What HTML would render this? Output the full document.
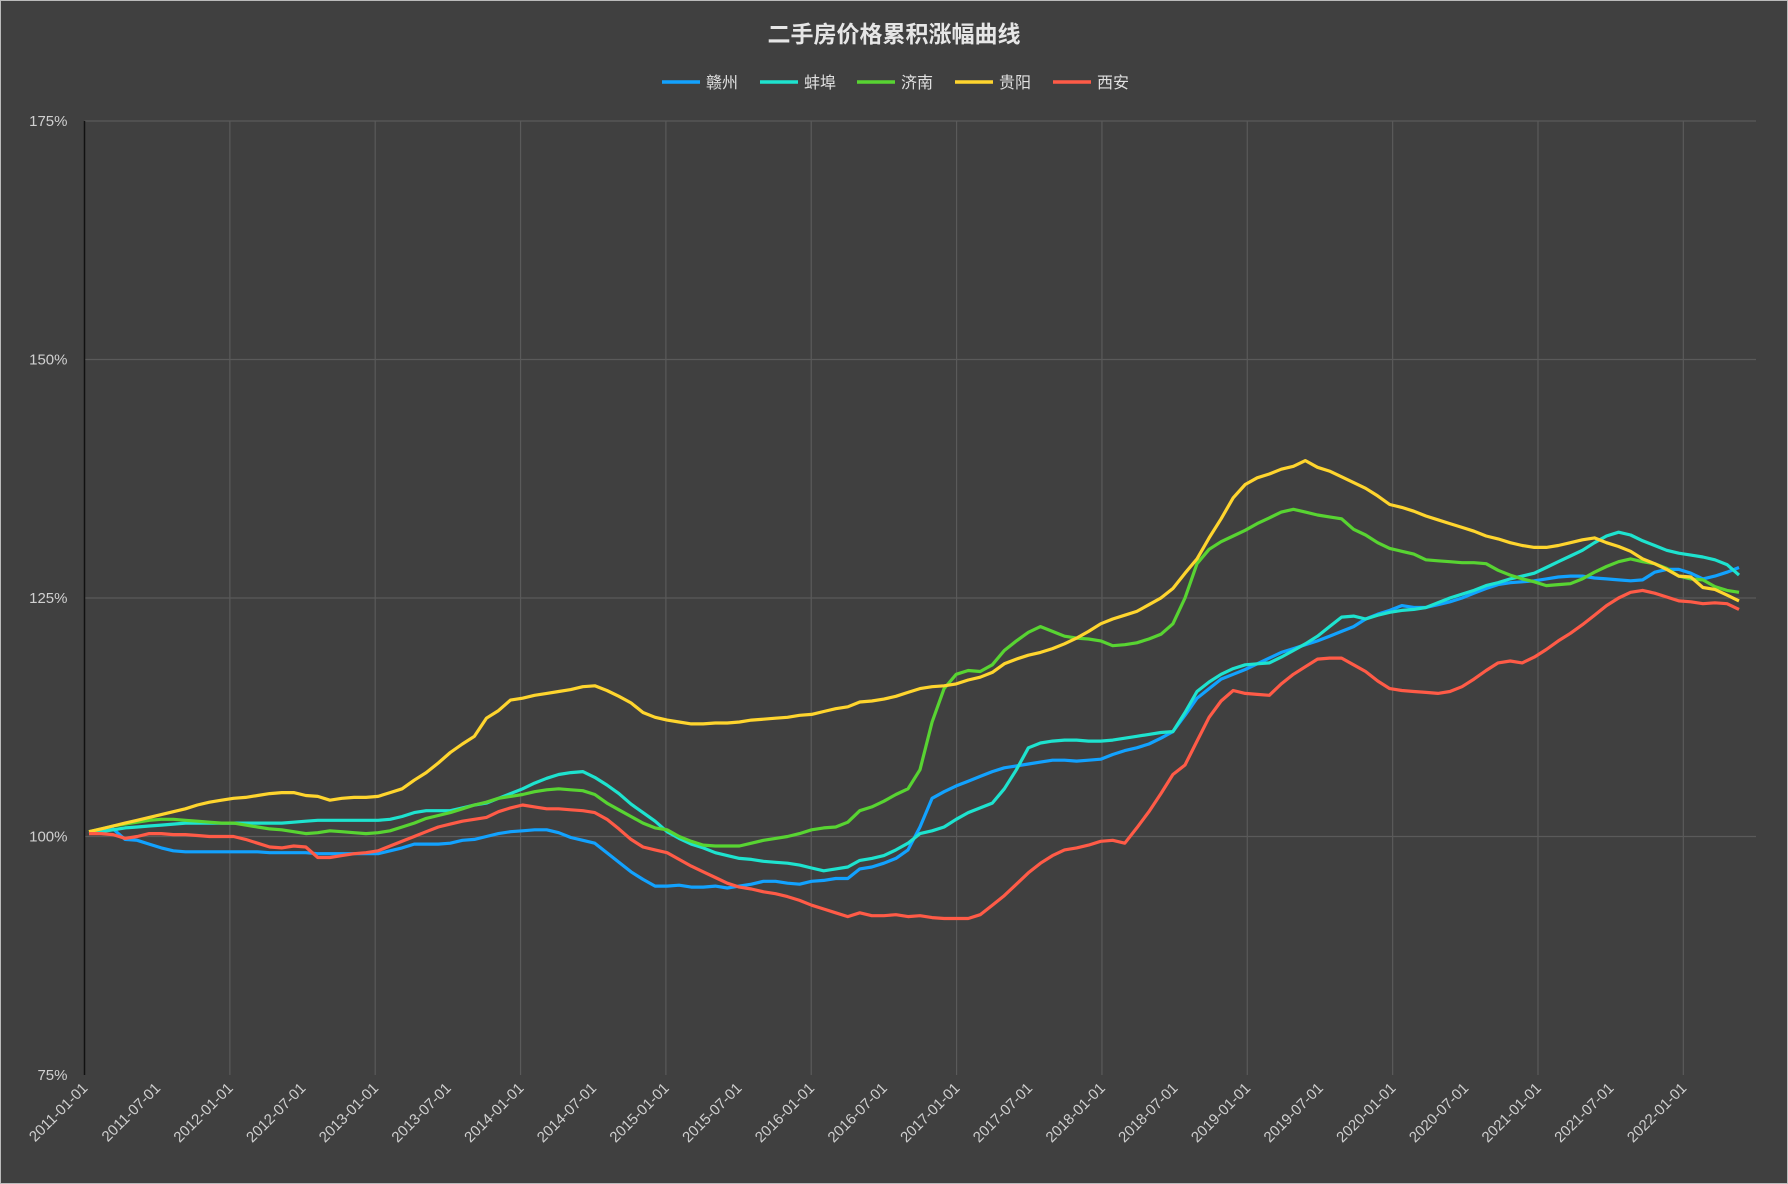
<!DOCTYPE html>
<html><head><meta charset="utf-8"><style>
html,body{margin:0;padding:0;background:#404040;}
svg{display:block;font-family:"Liberation Sans","Noto Sans CJK SC",sans-serif;}
</style></head><body>
<svg id="chart" width="1788" height="1184" viewBox="0 0 1788 1184" xmlns="http://www.w3.org/2000/svg">
<rect x="0.5" y="0.5" width="1787" height="1183" fill="#404040" stroke="#bbb" stroke-width="1"/>
<text x="894" y="42" text-anchor="middle" fill="#e6e6e6" font-size="23" font-weight="bold">二手房价格累积涨幅曲线</text>
<g id="legend"></g>
<g id="grid"></g>
<g id="series"></g>
<g id="axes"></g>
</svg>
<script>
const seriesNames = ["赣州","蚌埠","济南","贵阳","西安"];
const seriesColors = ["#12a2ff","#1ee3cf","#58d432","#ffd52e","#ff5b47"];
const yTicks = [75,100,125,150,175];
const startYear = 2011;
const monthCount = 138;
const ganzhou = [100.5,100.6,100.8,99.7,99.6,99.2,98.8,98.5,98.4,98.4,98.4,98.4,
98.4,98.4,98.4,98.3,98.3,98.3,98.3,98.2,98.2,98.2,98.2,98.2,
98.2,98.5,98.8,99.2,99.2,99.2,99.3,99.6,99.7,100.0,100.3,100.5,
100.6,100.7,100.7,100.4,99.9,99.6,99.3,98.3,97.3,96.3,95.5,94.8,
94.8,94.9,94.7,94.7,94.8,94.6,94.8,95.0,95.3,95.3,95.1,95.0,
95.3,95.4,95.6,95.6,96.6,96.8,97.2,97.7,98.6,101.0,104.0,104.7,
105.3,105.8,106.3,106.8,107.2,107.4,107.6,107.8,108.0,108.0,107.9,108.0,
108.1,108.6,109.0,109.3,109.7,110.3,111.0,112.7,114.5,115.5,116.5,117.0,
117.5,118.1,118.7,119.3,119.7,120.1,120.5,121.0,121.5,122.0,122.8,123.3,
123.7,124.2,124.0,124.0,124.3,124.6,125.0,125.5,126.0,126.4,126.6,126.7,
126.8,127.0,127.2,127.3,127.3,127.1,127.0,126.9,126.8,126.9,127.7,128.0,
128.0,127.6,127.0,127.3,127.7,128.2];
const bengbu = [100.3,100.5,100.7,100.9,101.0,101.1,101.2,101.3,101.4,101.4,101.4,101.4,
101.4,101.4,101.4,101.4,101.4,101.5,101.6,101.7,101.7,101.7,101.7,101.7,
101.7,101.8,102.1,102.5,102.7,102.7,102.7,103.0,103.3,103.5,104.0,104.5,
105.0,105.6,106.1,106.5,106.7,106.8,106.2,105.4,104.5,103.4,102.5,101.6,
100.5,99.8,99.2,98.8,98.3,98.0,97.7,97.6,97.4,97.3,97.2,97.0,
96.7,96.4,96.6,96.8,97.5,97.7,98.0,98.6,99.3,100.3,100.6,101.0,
101.8,102.5,103.0,103.5,105.0,107.0,109.3,109.8,110.0,110.1,110.1,110.0,
110.0,110.1,110.3,110.5,110.7,110.9,111.0,113.0,115.2,116.2,117.0,117.6,
118.0,118.1,118.2,118.8,119.5,120.2,121.0,122.0,123.0,123.1,122.8,123.2,
123.5,123.7,123.8,124.0,124.5,125.0,125.4,125.8,126.3,126.6,127.0,127.3,
127.6,128.2,128.8,129.4,130.0,130.8,131.5,131.9,131.6,131.0,130.5,130.0,
129.7,129.5,129.3,129.0,128.5,127.4];
const jinan = [100.5,100.8,101.1,101.3,101.5,101.7,101.8,101.8,101.7,101.6,101.5,101.4,
101.4,101.2,101.0,100.8,100.7,100.5,100.3,100.4,100.6,100.5,100.4,100.3,
100.4,100.6,101.0,101.4,101.9,102.2,102.5,102.9,103.3,103.6,104.0,104.2,
104.4,104.7,104.9,105.0,104.9,104.8,104.4,103.5,102.8,102.1,101.4,100.9,
100.7,100.0,99.5,99.1,99.0,99.0,99.0,99.3,99.6,99.8,100.0,100.3,
100.7,100.9,101.0,101.5,102.7,103.1,103.7,104.4,105.0,107.0,112.0,115.5,
117.0,117.4,117.3,118.0,119.5,120.5,121.4,122.0,121.5,121.0,120.8,120.7,
120.5,120.0,120.1,120.3,120.7,121.2,122.3,125.0,128.6,130.1,130.9,131.5,
132.1,132.8,133.4,134.0,134.3,134.0,133.7,133.5,133.3,132.2,131.6,130.8,
130.2,129.9,129.6,129.0,128.9,128.8,128.7,128.7,128.6,127.9,127.4,127.0,
126.7,126.3,126.4,126.5,127.0,127.7,128.3,128.8,129.1,128.8,128.6,128.1,
127.3,127.0,126.9,126.2,125.8,125.6];
const guiyang = [100.5,100.8,101.1,101.4,101.7,102.0,102.3,102.6,102.9,103.3,103.6,103.8,
104.0,104.1,104.3,104.5,104.6,104.6,104.3,104.2,103.8,104.0,104.1,104.1,
104.2,104.6,105.0,105.9,106.7,107.7,108.8,109.7,110.5,112.4,113.2,114.3,
114.5,114.8,115.0,115.2,115.4,115.7,115.8,115.3,114.7,114.0,113.0,112.5,
112.2,112.0,111.8,111.8,111.9,111.9,112.0,112.2,112.3,112.4,112.5,112.7,
112.8,113.1,113.4,113.6,114.1,114.2,114.4,114.7,115.1,115.5,115.7,115.8,
116.0,116.4,116.7,117.2,118.1,118.6,119.0,119.3,119.7,120.2,120.8,121.5,
122.3,122.8,123.2,123.6,124.3,125.0,126.0,127.6,129.1,131.3,133.3,135.5,
136.9,137.6,138.0,138.5,138.8,139.4,138.7,138.3,137.7,137.1,136.5,135.7,
134.8,134.5,134.1,133.6,133.2,132.8,132.4,132.0,131.5,131.2,130.8,130.5,
130.3,130.3,130.5,130.8,131.1,131.3,130.8,130.4,129.9,129.1,128.6,128.0,
127.3,127.2,126.1,125.9,125.3,124.7];
const xian = [100.3,100.3,100.2,99.8,100.0,100.3,100.3,100.2,100.2,100.1,100.0,100.0,
100.0,99.7,99.3,98.9,98.8,99.0,98.9,97.8,97.8,98.0,98.2,98.3,
98.5,99.0,99.5,100.0,100.5,101.0,101.3,101.6,101.8,102.0,102.6,103.0,
103.3,103.1,102.9,102.9,102.8,102.7,102.5,101.8,100.8,99.7,98.9,98.6,
98.3,97.6,96.9,96.3,95.7,95.1,94.7,94.5,94.2,94.0,93.7,93.3,
92.8,92.4,92.0,91.6,92.0,91.7,91.7,91.8,91.6,91.7,91.5,91.4,
91.4,91.4,91.8,92.8,93.8,95.0,96.2,97.2,98.0,98.6,98.8,99.1,
99.5,99.6,99.3,100.9,102.6,104.5,106.5,107.5,110.0,112.5,114.2,115.3,
115.0,114.9,114.8,116.0,117.0,117.8,118.6,118.7,118.7,118.0,117.3,116.3,
115.5,115.3,115.2,115.1,115.0,115.2,115.7,116.5,117.4,118.2,118.4,118.2,
118.8,119.6,120.5,121.3,122.2,123.2,124.2,125.0,125.6,125.8,125.5,125.1,
124.7,124.6,124.4,124.5,124.4,123.8];
const allSeries = [ganzhou,bengbu,jinan,guiyang,xian];

const NS="http://www.w3.org/2000/svg";
const L=84.5,R=1756,T=121,B=1075;
const band=(R-L)/monthCount;
const X0=89,X1=1739;
const yMin=75,yMax=175;
function xScale(i){return X0+i*(X1-X0)/(monthCount-1);}
function yScale(v){return B-(v-yMin)/(yMax-yMin)*(B-T);}
function mk(tag,attrs,parent){const e=document.createElementNS(NS,tag);for(const k in attrs)e.setAttribute(k,attrs[k]);parent.appendChild(e);return e;}
const grid=document.getElementById('grid'),axes=document.getElementById('axes'),ser=document.getElementById('series'),leg=document.getElementById('legend');

yTicks.forEach(t=>{
  const y=yScale(t);
  if(t!==yMin){const gl=mk('line',{x1:L,x2:R,y1:y,y2:y,stroke:'#5a5a5a','stroke-width':1.2},grid);
  
  }
  const tx=mk('text',{x:L-17,y:y+5,'text-anchor':'end',fill:'#d0d0d0','font-size':15},axes);
  tx.textContent=t+'%';
  
  
});
for(let i=12;i<monthCount;i+=12){
  const x=L+i*band;
  const gl=mk('line',{x1:x,x2:x,y1:T,y2:B,stroke:'#5a5a5a','stroke-width':1.2},grid);
  
  
}
const ax=mk('line',{x1:L,x2:L,y1:T,y2:B,stroke:'#111','stroke-width':1.5},axes);


for(let i=0;i<monthCount;i+=6){
  const yr=startYear+Math.floor(i/12),mo=(i%12)+1;
  const lbl=yr+'-'+(mo<10?'0':'')+mo+'-01';
  const x=L+(i+0.5)*band-2,y=B+14;
  const tx=mk('text',{x:x,y:y,'text-anchor':'end',fill:'#d0d0d0','font-size':15,transform:`rotate(-45 ${x} ${y})`},axes);
  tx.textContent=lbl;
  
  
}
allSeries.forEach((d,s)=>{
  const pts=d.map((v,i)=>xScale(i).toFixed(1)+','+yScale(v).toFixed(1)).join(' ');
  const pl=mk('polyline',{points:pts,fill:'none',stroke:seriesColors[s],'stroke-width':3.2,'stroke-linejoin':'round'},ser);
  
  
});
const legX=[662,760,857,955,1053];
seriesNames.forEach((n,s)=>{
  const g=mk('g',{},leg);
  
  
  mk('line',{x1:legX[s],x2:legX[s]+38,y1:82,y2:82,stroke:seriesColors[s],'stroke-width':3.5},g);
  const t=mk('text',{x:legX[s]+44,y:88,fill:'#e0e0e0','font-size':16},g);
  t.textContent=n;
});
</script>
</body></html>
